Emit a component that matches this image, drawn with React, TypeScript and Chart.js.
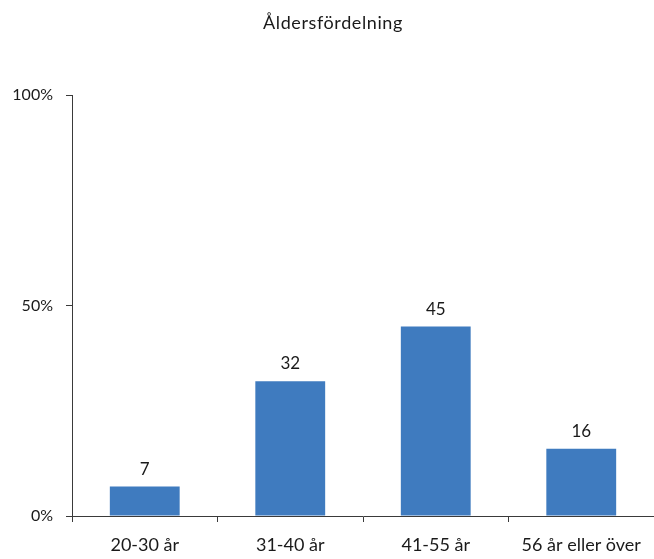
import React, { useEffect, useRef } from "react";
import { Chart, registerables } from "chart.js";

Chart.register(...registerables);

const title = "Åldersfördelning";
const categories = ["20-30 år", "31-40 år", "41-55 år", "56 år eller över"];
const values = [7, 32, 45, 16];
const yTicks = [0, 50, 100];

const FONT = "Lato, 'Open Sans', sans-serif";
const TEXT = "#1a1a1a";
const AXIS = "#3a3a3a";
const BAR = "#3f7bbf";

const labelsPlugin = {
  id: "barLabels",
  afterDatasetsDraw(chart: any) {
    const ctx = chart.ctx;
    const meta = chart.getDatasetMeta(0);
    ctx.save();
    ctx.font = `17px ${FONT}`;
    ctx.fillStyle = TEXT;
    ctx.textAlign = "center";
    ctx.textBaseline = "bottom";
    meta.data.forEach((bar: any, i: number) => {
      ctx.fillText(String(values[i]), bar.x, bar.y - 9);
    });
    ctx.restore();
  },
};

const titlePlugin = {
  id: "customTitle",
  afterDraw(chart: any) {
    const ctx = chart.ctx;
    ctx.save();
    ctx.font = `18px ${FONT}`;
    ctx.fillStyle = TEXT;
    ctx.textAlign = "center";
    ctx.textBaseline = "middle";
    try {
      (ctx as any).letterSpacing = "0.6px";
    } catch (e) {}
    ctx.fillText(title, 333, 23);
    ctx.restore();
  },
};

export default function App() {
  const ref = useRef<HTMLCanvasElement>(null);
  useEffect(() => {
    document.body.style.margin = "0";
    if (!ref.current) return;
    const chart = new Chart(ref.current, {
      type: "bar",
      data: {
        labels: categories,
        datasets: [
          {
            data: values,
            backgroundColor: BAR,
            borderWidth: 0,
            categoryPercentage: 1,
            barPercentage: 0.48,
          },
        ],
      },
      options: {
        animation: false,
        responsive: false,
        maintainAspectRatio: false,
        layout: { padding: { top: 95, left: 0, right: 0, bottom: 0 } },
        plugins: {
          legend: { display: false },
          title: { display: false },
          tooltip: { enabled: false },
        },
        scales: {
          x: {
            grid: {
              offset: true,
              drawOnChartArea: false,
              drawTicks: true,
              tickLength: 6,
              color: AXIS,
            },
            border: { display: true, color: AXIS, width: 1 },
            ticks: {
              color: TEXT,
              font: { family: FONT, size: 18 },
              padding: 12,
              maxRotation: 0,
              autoSkip: false,
            },
            afterFit(scale: any) {
              scale.height = 43;
            },
          },
          y: {
            min: 0,
            max: 100,
            afterBuildTicks(scale: any) {
              scale.ticks = yTicks.map((v) => ({ value: v }));
            },
            grid: {
              drawOnChartArea: false,
              drawTicks: true,
              tickLength: 6,
              color: AXIS,
            },
            border: { display: true, color: AXIS, width: 1 },
            ticks: {
              color: TEXT,
              font: { family: FONT, size: 16 },
              padding: 13,
              callback: (v: any) => `${v}%`,
            },
            afterFit(scale: any) {
              scale.width = 72;
            },
          },
        },
      },
      plugins: [labelsPlugin, titlePlugin],
    });
    return () => chart.destroy();
  }, []);
  return (
    <div style={{ width: 654, height: 559 }}>
      <canvas ref={ref} width={654} height={559} style={{ display: "block" }} />
    </div>
  );
}
